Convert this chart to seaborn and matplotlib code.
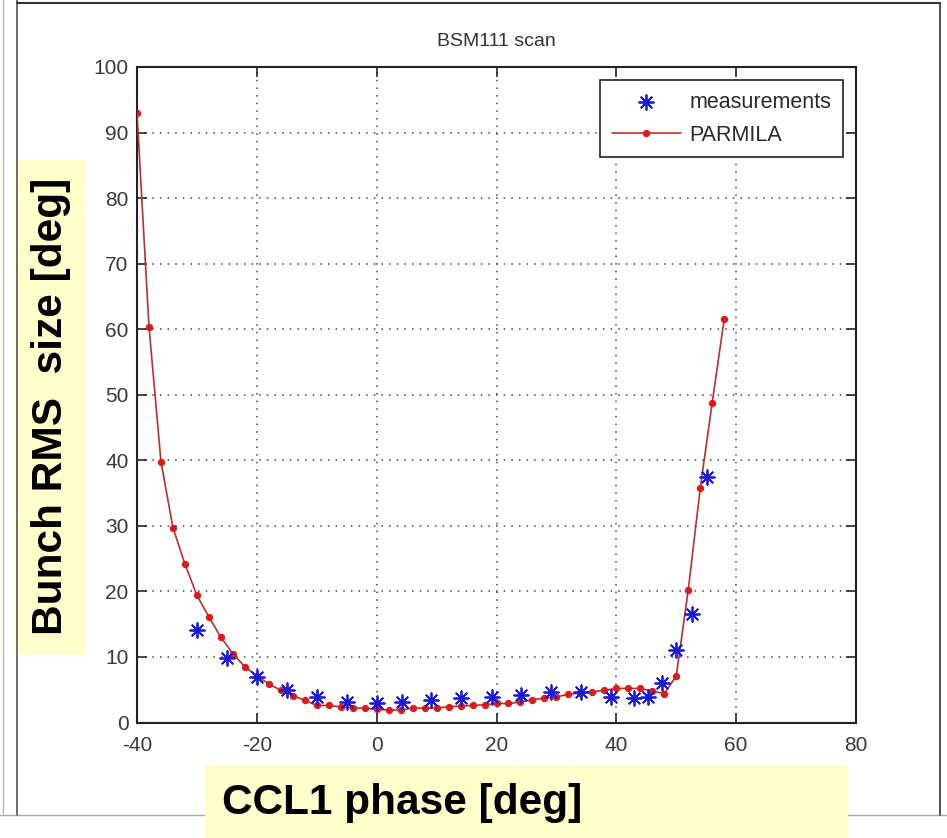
import matplotlib
matplotlib.use("Agg")
import matplotlib.pyplot as plt
from matplotlib.patches import Rectangle
from matplotlib.lines import Line2D
import seaborn as sns
import pandas as pd

# ---- data ----
parmila_phase = [-40, -38, -36, -34, -32, -30, -28, -26, -24, -22, -20, -18, -16, -14,
                 -12, -10, -8, -6, -4, -2, 0, 2, 4, 6, 8, 10, 12, 14, 16, 18, 20, 22,
                 24, 26, 28, 30, 32, 34, 36, 38, 40, 42, 44, 46, 48, 50, 52, 54, 56, 58]
parmila_size = [93.0, 60.4, 39.8, 29.7, 24.2, 19.4, 16.1, 13.0, 10.5, 8.5, 7.1, 5.9, 4.9, 4.1,
                3.4, 2.6, 2.6, 2.4, 2.2, 2.2, 2.0, 1.9, 1.9, 2.2, 2.2, 2.2, 2.4, 2.5, 2.6, 2.7,
                2.9, 2.9, 3.1, 3.5, 3.7, 3.9, 4.3, 4.5, 4.7, 4.9, 5.2, 5.2, 5.2, 4.8, 4.4,
                7.1, 20.2, 35.7, 48.8, 61.5]

meas_phase = [-30, -25, -20, -15, -10, -5, 0, 4.3, 9, 14, 19.2, 24.1, 29.1, 34.1, 39.1,
              42.9, 45.3, 47.7, 50, 52.6, 55.2]
meas_size = [14.1, 9.8, 7.0, 4.9, 3.9, 3.2, 2.9, 3.2, 3.4, 3.7, 3.9, 4.2, 4.7, 4.7, 3.9,
             3.7, 3.9, 6.0, 11.1, 16.5, 37.5]

x_ticks = [-40, -20, 0, 20, 40, 60, 80]
y_ticks = [0, 10, 20, 30, 40, 50, 60, 70, 80, 90, 100]

title_text = "BSM111 scan"
x_label = "CCL1 phase [deg]"
y_label = "Bunch RMS  size [deg]"

df_parmila = pd.DataFrame({"phase": parmila_phase, "size": parmila_size})
df_meas = pd.DataFrame({"phase": meas_phase, "size": meas_size})

sns.set_style("ticks")
plt.rcParams["font.family"] = ["Liberation Sans", "DejaVu Sans"]

fig = plt.figure(figsize=(9.47, 8.38), dpi=100)
ax = fig.add_axes([137 / 947, 1 - 722.5 / 838, (856 - 137) / 947, (722.5 - 67) / 838])

# window border lines (screenshot frame)
fig.add_artist(Line2D([17 / 947, 17 / 947], [1 - 815 / 838, 1.0], transform=fig.transFigure,
                      color="#555555", lw=1.2))
fig.add_artist(Line2D([3 / 947, 3 / 947], [1 - 815 / 838, 1.0], transform=fig.transFigure,
                      color="#bbbbbb", lw=1))
fig.add_artist(Line2D([17 / 947, 940 / 947], [1 - 3 / 838, 1 - 3 / 838], transform=fig.transFigure,
                      color="#333333", lw=1.5))
fig.add_artist(Line2D([940 / 947, 940 / 947], [1 - 815 / 838, 1 - 3 / 838], transform=fig.transFigure,
                      color="#333333", lw=1.2))
fig.add_artist(Line2D([0, 1], [1 - 815 / 838, 1 - 815 / 838], transform=fig.transFigure,
                      color="#aaaaaa", lw=1, zorder=0))

sns.scatterplot(data=df_meas, x="phase", y="size", ax=ax, marker=(8, 2, 0), s=110,
                color="#1a1adc", linewidth=1.3, label="measurements", zorder=4)
sns.lineplot(data=df_parmila, x="phase", y="size", ax=ax, sort=False, estimator=None,
             color="#b8302c", lw=1.2, marker="o", markersize=4.5,
             markerfacecolor="#e01818", markeredgecolor="#e01818",
             label="PARMILA", zorder=3)

ax.set_xlim(-40, 80)
ax.set_ylim(0, 100)
ax.set_xticks(x_ticks)
ax.set_yticks(y_ticks)
ax.set_xticklabels([str(t) for t in x_ticks])
ax.set_yticklabels([str(t) for t in y_ticks])
ax.tick_params(direction="in", length=7, width=1.2, top=True, right=True,
               labelsize=15, labelcolor="#3a3a3a")
ax.tick_params(axis="x", pad=10)
ax.tick_params(axis="y", pad=6)
ax.grid(True, color="#444444", linestyle=(0, (1, 4)), linewidth=1.1)
for sp in ax.spines.values():
    sp.set_visible(True)
    sp.set_color("#222222")
    sp.set_linewidth(1.5)
ax.set_xlabel("")
ax.set_ylabel("")
ax.set_title(title_text, fontsize=14, color="#333333", pad=15)

leg = ax.legend(loc="upper right", frameon=True, fancybox=False, edgecolor="#222222",
                framealpha=1, numpoints=1, scatterpoints=1, fontsize=15.5,
                handlelength=3.2, handletextpad=0.4, borderaxespad=0.6,
                labelspacing=0.55, borderpad=0.55)
leg.get_frame().set_linewidth(1.2)
for t in leg.get_texts():
    t.set_color("#2a2a2a")

# yellow label boxes
fig.add_artist(Rectangle((15 / 947, 1 - 655 / 838), 71 / 947, 495 / 838,
                         transform=fig.transFigure, facecolor="#ffffcc", edgecolor="none", zorder=1))
fig.text(51 / 947, 1 - 406 / 838, y_label, rotation=90, ha="center", va="center",
         fontsize=30.5, fontweight="bold", color="black", zorder=2)
fig.add_artist(Rectangle((205 / 947, 0), 643 / 947, 73 / 838,
                         transform=fig.transFigure, facecolor="#ffffcc", edgecolor="none", zorder=1))
fig.text(222 / 947, 1 - 803 / 838, x_label, ha="left", va="center",
         fontsize=30.5, fontweight="bold", color="black", zorder=2)

fig.savefig("out.png", dpi=100)
